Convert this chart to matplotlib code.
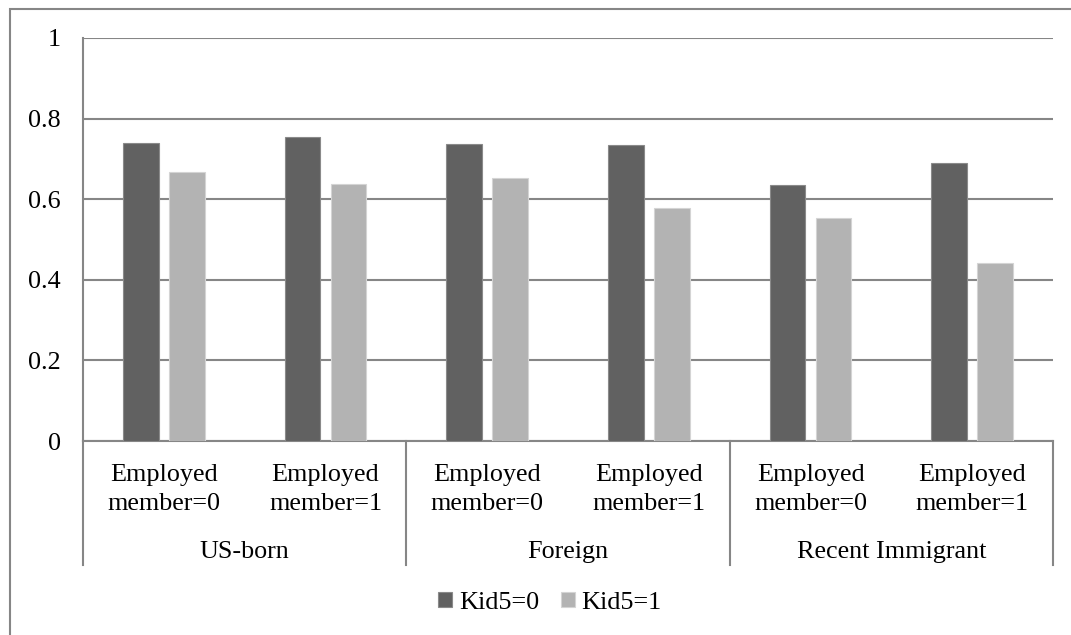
import matplotlib.pyplot as plt
import numpy as np
from matplotlib.patches import Rectangle
from matplotlib.transforms import blended_transform_factory

plt.rcParams["font.family"] = ["Liberation Serif", "DejaVu Serif"]

# data
groups = ["US-born", "Foreign", "Recent Immigrant"]
sub_labels = ["Employed\nmember=0", "Employed\nmember=1"] * 3
kid0 = [0.739, 0.754, 0.737, 0.734, 0.635, 0.691]
kid1 = [0.667, 0.638, 0.653, 0.577, 0.554, 0.442]
series_names = ["Kid5=0", "Kid5=1"]
y_ticks = [0, 0.2, 0.4, 0.6, 0.8, 1]

W, H = 1071, 635
fs = 18.8
grid_c = "#868686"

fig = plt.figure(figsize=(W / 100, H / 100), dpi=100)
ax = fig.add_axes([83 / W, 1 - 441 / H, (1053 - 83) / W, (441 - 38) / H])

x = np.arange(len(kid0))
b0 = ax.bar(x - 0.142, kid0, width=0.222, color="#616161", edgecolor="#8a8a8a", linewidth=0.8, zorder=3)
b1 = ax.bar(x + 0.142, kid1, width=0.222, color="#b3b3b3", edgecolor="#d4d4d4", linewidth=0.8, zorder=3)

ax.set_xlim(-0.5, 5.5)
ax.set_ylim(0, 1)
ax.set_yticks(y_ticks)
ax.set_yticklabels(["0" if v == 0 else ("1" if v == 1 else f"{v:.1f}") for v in y_ticks], fontsize=fs)
ax.tick_params(axis="y", length=0, pad=15.8)
ax.set_xticks([])
ax.yaxis.grid(True, color=grid_c, linewidth=1.5, zorder=0)
ax.set_axisbelow(True)
for s in ["top", "right"]:
    ax.spines[s].set_visible(False)
for s in ["left", "bottom"]:
    ax.spines[s].set_color(grid_c)
    ax.spines[s].set_linewidth(1.5)

# two-level category axis below the plot
tr = blended_transform_factory(ax.transData, fig.transFigure)
for i, lab in enumerate(sub_labels):
    line1, line2 = lab.split("\n")
    ax.text(i, 1 - 481 / H, line1, transform=tr, ha="center", va="baseline", fontsize=fs)
    ax.text(i, 1 - 510 / H, line2, transform=tr, ha="center", va="baseline", fontsize=fs)
for g, name in enumerate(groups):
    ax.text(2 * g + 0.5, 1 - 558 / H, name, transform=tr, ha="center", va="baseline", fontsize=fs)
for xs in [-0.5, 1.5, 3.5, 5.5]:
    ax.plot([xs, xs], [1 - 441 / H, 1 - 565 / H], transform=tr, color=grid_c, linewidth=1.5, clip_on=False)

# legend
fig.legend([b0, b1], series_names, loc="center", bbox_to_anchor=(550 / W, 1 - 603 / H), ncol=2,
           frameon=False, fontsize=fs, handlelength=0.53, handleheight=0.5, handletextpad=0.25,
           columnspacing=0.85, borderaxespad=0)

# chart border
fig.patches.append(Rectangle((10 / W, -0.1), 1.2, 1.1 - 9 / H, transform=fig.transFigure,
                             fill=False, edgecolor=grid_c, linewidth=1.5))

fig.savefig("out.png", dpi=100)
